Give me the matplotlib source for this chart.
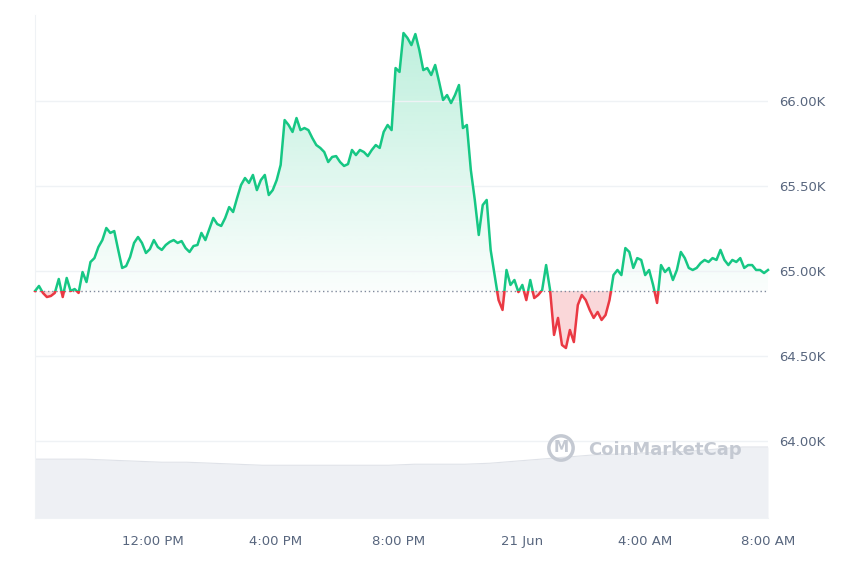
import numpy as np
import matplotlib
matplotlib.use("Agg")
import matplotlib.pyplot as plt
import matplotlib.dates as mdates
from matplotlib.patches import Rectangle, Polygon
import datetime as dt

prices = [64882,64912,64871,64847,64853,64871,64953,64847,64959,64882,64894,64871,64994,64935,65053,65076,65141,65182,65253,65224,65235,65124,65018,65029,65082,65165,65200,65165,65106,65129,65182,65141,65124,65153,65171,65182,65165,65176,65135,65112,65147,65153,65224,65182,65247,65312,65276,65265,65312,65376,65347,65429,65506,65547,65518,65565,65476,65535,65565,65447,65476,65535,65624,65888,65859,65818,65900,65829,65841,65829,65782,65741,65724,65700,65641,65671,65676,65641,65618,65629,65712,65682,65712,65700,65676,65712,65741,65724,65818,65859,65829,66194,66171,66400,66371,66329,66394,66300,66182,66194,66153,66212,66112,66006,66035,65988,66035,66094,65841,65859,65594,65418,65212,65388,65418,65124,64976,64829,64771,65006,64918,64947,64876,64918,64829,64947,64841,64859,64888,65035,64888,64624,64724,64565,64547,64653,64582,64800,64859,64829,64771,64724,64759,64712,64741,64829,64976,65006,64976,65135,65112,65018,65076,65065,64976,65006,64918,64812,65035,64994,65018,64947,65006,65112,65076,65018,65006,65018,65047,65065,65053,65076,65065,65124,65065,65035,65065,65053,65076,65018,65035,65035,65006,65006,64988,65006]
baseline = 64882
volume = [58,58,58,57,56,55,55,54,53,52,52,52,52,52,52,53,53,53,54,56,58,60,62,63,64,65,66,68,70,70]

start = dt.datetime(2024,6,20,8,11)
end = dt.datetime(2024,6,21,8,0)
t = [start + (end-start)*i/(len(prices)-1) for i in range(len(prices))]
tv = [start + (end-start)*i/(len(volume)-1) for i in range(len(volume))]
tn = mdates.date2num(t)
p = np.array(prices)

fig = plt.figure(figsize=(8.6,5.73), dpi=100)
ax = fig.add_axes([35/860, 55/573, 733/860, 503/573])
ymin, ymax = 63547, 66506

axv = ax.twinx()
axv.fill_between(mdates.date2num(tv), volume, 0, color="#eef0f4", lw=0, zorder=0)
axv.plot(mdates.date2num(tv), volume, color="#dfe2e8", lw=0.8)
axv.set_ylim(0, 70*503/71)
axv.set_yticks([])
for s in axv.spines.values(): s.set_visible(False)
ax.set_zorder(axv.get_zorder()+1); ax.patch.set_visible(False)

poly_g = np.column_stack([np.r_[tn, tn[::-1]], np.r_[np.maximum(p, baseline), np.full(len(p), baseline)]])
grad = np.linspace(0, 1, 256).reshape(-1, 1)
cg = np.zeros((256,1,4)); cg[...,:3] = matplotlib.colors.to_rgb("#16c784"); cg[...,3] = 0.02 + 0.26*grad
im = ax.imshow(cg, extent=[tn[0], tn[-1], baseline, 66400], origin="lower", aspect="auto", zorder=1)
pg = Polygon(poly_g, transform=ax.transData, facecolor="none", edgecolor="none"); ax.add_patch(pg)
im.set_clip_path(pg)
poly_r = np.column_stack([np.r_[tn, tn[::-1]], np.r_[np.minimum(p, baseline), np.full(len(p), baseline)]])
ax.add_patch(Polygon(poly_r, facecolor="#ea3943", alpha=0.2, edgecolor="none", zorder=1))
ax.set_ylim(ymin, ymax); ax.set_xlim(tn[0], tn[-1])

lg, = ax.plot(tn, p, color="#16c784", lw=1.8, zorder=3)
lr, = ax.plot(tn, p, color="#ea3943", lw=1.8, zorder=3)
lg.set_clip_path(Rectangle((tn[0]-1, baseline), 10, 5000, transform=ax.transData))
lr.set_clip_path(Rectangle((tn[0]-1, baseline-5000), 10, 5000, transform=ax.transData))
ax.axhline(baseline, color="#808a9d", lw=1, ls=(0,(1,2)), zorder=2)

ax.set_yticks([64000,64500,65000,65500,66000])
ax.set_yticklabels(["64.00K","64.50K","65.00K","65.50K","66.00K"])
ax.yaxis.tick_right()
ax.grid(axis="y", color="#eff2f5", lw=1)
ax.tick_params(axis="y", length=0, pad=8, labelsize=9.5, labelcolor="#58667e")
xt = [dt.datetime(2024,6,20,12), dt.datetime(2024,6,20,16), dt.datetime(2024,6,20,20), dt.datetime(2024,6,21,0), dt.datetime(2024,6,21,4), dt.datetime(2024,6,21,8)]
ax.set_xticks(mdates.date2num(xt))
ax.set_xticklabels(["12:00 PM","4:00 PM","8:00 PM","21 Jun","4:00 AM","8:00 AM"])
ax.tick_params(axis="x", length=0, pad=12, labelsize=9.5, labelcolor="#58667e")
for k in ["top","right"]: ax.spines[k].set_visible(False)
ax.spines["left"].set_color("#eff2f5")
ax.spines["bottom"].set_color("#eff2f5")

fig.text(588/860, 1-450/573, "CoinMarketCap", fontsize=13, color="#c4c9d2", fontweight="bold", va="center", ha="left")
fig.text(561/860, 1-448/573, "M", fontsize=11, color="#c4c9d2", fontweight="bold", va="center", ha="center",
         bbox=dict(boxstyle="circle,pad=0.3", fc="none", ec="#c4c9d2", lw=2.5))
fig.savefig("out.png", dpi=100)
